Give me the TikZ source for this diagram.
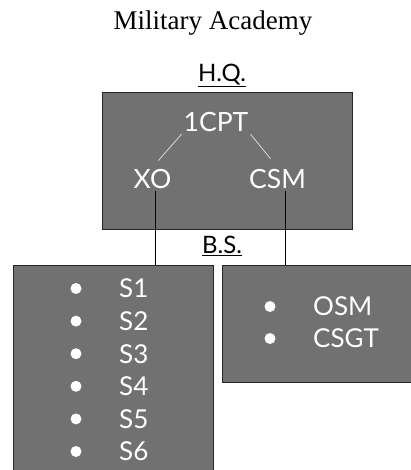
\documentclass[tikz,border=0pt]{standalone}
\usepackage{fontspec}
\setmainfont{Liberation Serif}
\newfontfamily\lato{Lato}
\definecolor{boxgray}{HTML}{717171}
\definecolor{edgegray}{HTML}{262626}

\begin{document}
\begin{tikzpicture}[x=1pt,y=-1pt,
    box/.style={rectangle,draw=edgegray,fill=boxgray,line width=1.2pt,anchor=north west,inner sep=0pt},
    rank/.style={font=\lato\fontsize{26.5}{27}\selectfont,text=white,text height=19pt,text depth=0pt,inner sep=2pt},
    item/.style={font=\lato\fontsize{26}{27}\selectfont,text=white,anchor=west,text height=18.6pt,text depth=0pt,inner sep=0pt},
    dot/.style={circle,fill=white,minimum size=11pt,inner sep=0pt},
    head/.style={font=\lato\fontsize{24}{25}\selectfont,text height=17.2pt,text depth=0pt,inner sep=0pt},
    link/.style={draw=white!85!black,line width=0.8pt},
    tie/.style={draw=black,line width=1pt}]
    \useasboundingbox (0,0) rectangle (410,470);
    \node[font=\fontsize{27}{29}\selectfont,text height=18pt,text depth=0pt,inner sep=0pt] (title) at (213,21) {Military Academy};
    \node[head] (hqlabel) at (222,72.5) {\underline{H.Q.}};
    \node[box,minimum width=250pt,minimum height=137pt] (hq) at (102,92) {};
    \node[head] (bslabel) at (222,245) {\underline{B.S.}};
    \node[box,minimum width=200pt,minimum height=220pt] (staff) at (13,265) {};
    \node[box,minimum width=200pt,minimum height=117pt] (nco) at (222,265) {};
    % ranks in the H.Q. box
    \node[rank] (cpt) at (216,122.5) {1CPT};
    \node[rank] (xo) at (152.5,179) {XO};
    \node[rank] (csm) at (277.5,179) {CSM};
    \draw[link,shorten >=9pt] (cpt.south west) -- (xo.north);
    \draw[link,shorten >=11pt] (cpt.south east) -- (csm.north);
    \draw[tie] ([xshift=3pt]xo.south) -- ([xshift=3pt]xo.south |- staff.north);
    \draw[tie] ([xshift=7.5pt]csm.south) -- ([xshift=7.5pt]csm.south |- nco.north);
    % sections
    \foreach \i in {1,...,6} {
        \node[dot] (sdot\i) at (76,288.5+32.6*\i-32.6) {};
        \node[item] (s\i) at (119,288.5+32.6*\i-32.6) {S\i};
    }
    \node[dot] (odot) at (270,306.5) {};
    \node[item] (osm) at (313,306.5) {OSM};
    \node[dot] (cdot) at (270,338.5) {};
    \node[item] (csgt) at (313,338.5) {CSGT};
\end{tikzpicture}
\end{document}
